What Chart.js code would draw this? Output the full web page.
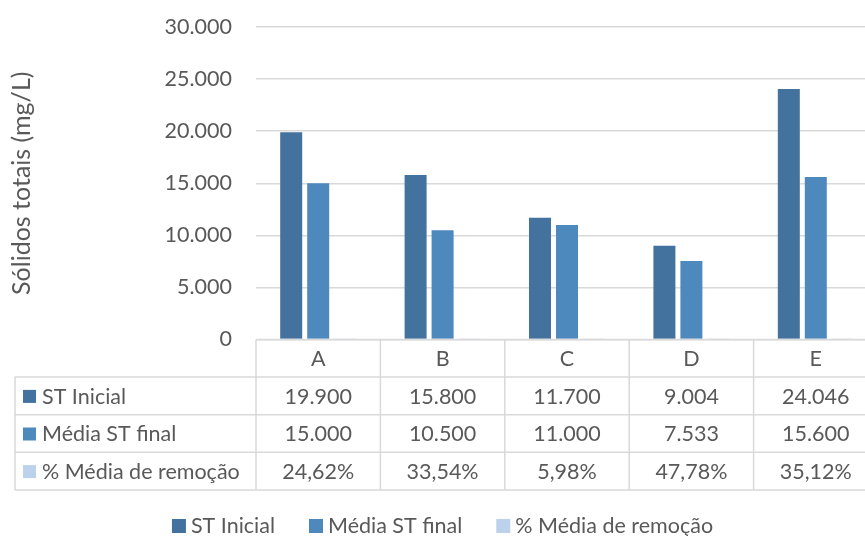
<!DOCTYPE html>
<html>
<head>
<meta charset="utf-8">
<script src="https://cdn.jsdelivr.net/npm/chart.js@4/dist/chart.umd.min.js"></script>
<style>
  html, body { margin: 0; padding: 0; background: #ffffff; overflow: hidden; width: 865px; height: 536px; }
  #wrap { position: absolute; left: 0; top: 0; width: 883px; height: 536px; }
</style>
</head>
<body>
<div id="wrap"><canvas id="c" width="883" height="536"></canvas></div>
<script>
// ---- data ----
const categories = ['A', 'B', 'C', 'D', 'E'];
const stInicial = [19900, 15800, 11700, 9004, 24046];
const mediaStFinal = [15000, 10500, 11000, 7533, 15600];
const pctRemocao = [24.62, 33.54, 5.98, 47.78, 35.12]; // percent
const seriesNames = ['ST Inicial', 'Média ST final', '% Média de remoção'];
const yTicks = [0, 5000, 10000, 15000, 20000, 25000, 30000];
const yTitle = 'Sólidos totais (mg/L)';

const colors = ['#44729E', '#4E89BE', '#BCD2EB'];
const FONT = 'Lato, "Open Sans", sans-serif';
const FSIZE = 21.5;
const TXT = '#595959';
const GRID = '#D9D9D9';

function fmtThousands(v) {
  return String(Math.round(v)).replace(/\B(?=(\d{3})+(?!\d))/g, '.');
}
function fmtPct(v) {
  return v.toFixed(2).replace('.', ',') + '%';
}

const tableRows = [
  { name: seriesNames[0], color: colors[0], values: stInicial.map(fmtThousands) },
  { name: seriesNames[1], color: colors[1], values: mediaStFinal.map(fmtThousands) },
  { name: seriesNames[2], color: colors[2], values: pctRemocao.map(fmtPct) }
];

const tablePlugin = {
  id: 'dataTable',
  afterDraw(chart) {
    const ctx = chart.ctx;
    const area = chart.chartArea;
    const xs = chart.scales.x;
    const n = categories.length;
    const catW = (area.right - area.left) / n;
    const top = area.bottom;
    const rowH = 37.6;
    const tableLeft = 15;
    const right = area.right;

    ctx.save();
    ctx.strokeStyle = GRID;
    ctx.lineWidth = 1.5;
    ctx.beginPath();
    ctx.moveTo(area.left, top); ctx.lineTo(right, top);
    for (let r = 1; r <= 4; r++) {
      const y = top + r * rowH;
      ctx.moveTo(tableLeft, y); ctx.lineTo(right, y);
    }
    ctx.moveTo(tableLeft, top + rowH); ctx.lineTo(tableLeft, top + 4 * rowH);
    for (let i = 0; i <= n; i++) {
      const x = area.left + i * catW;
      ctx.moveTo(x, top); ctx.lineTo(x, top + 4 * rowH);
    }
    ctx.stroke();

    ctx.fillStyle = TXT;
    ctx.font = FSIZE + 'px ' + FONT;
    ctx.textBaseline = 'middle';
    ctx.textAlign = 'center';
    for (let i = 0; i < n; i++) {
      ctx.fillText(categories[i], xs.getPixelForValue(i), top + rowH / 2 + 1);
    }
    tableRows.forEach((row, r) => {
      const cy = top + (r + 1) * rowH + rowH / 2 + 1;
      ctx.fillStyle = row.color;
      ctx.fillRect(23, cy - 7, 13, 13);
      ctx.fillStyle = TXT;
      ctx.textAlign = 'left';
      ctx.fillText(row.name, 42, cy);
      ctx.textAlign = 'center';
      row.values.forEach((v, i) => {
        ctx.fillText(v, xs.getPixelForValue(i), cy);
      });
    });

    // bottom legend
    const ly = 526;
    const box = 14, gapBox = 5, gapItem = 34;
    const items = chart.data.datasets.map(d => ({ label: d.label, color: d.backgroundColor }));
    const widths = items.map(it => box + gapBox + ctx.measureText(it.label).width);
    const total = widths.reduce((a, b) => a + b, 0) + gapItem * (items.length - 1);
    let x = 442.5 - total / 2;
    ctx.textAlign = 'left';
    items.forEach((it, i) => {
      ctx.fillStyle = it.color;
      ctx.fillRect(x, ly - 7, box, box);
      ctx.fillStyle = TXT;
      ctx.fillText(it.label, x + box + gapBox, ly);
      x += widths[i] + gapItem;
    });
    ctx.restore();
  }
};

new Chart(document.getElementById('c'), {
  type: 'bar',
  data: {
    labels: categories,
    datasets: [
      { label: seriesNames[0], data: stInicial, backgroundColor: colors[0] },
      { label: seriesNames[1], data: mediaStFinal, backgroundColor: colors[1] },
      { label: seriesNames[2], data: pctRemocao.map(v => v / 100), backgroundColor: colors[2] }
    ]
  },
  options: {
    responsive: false,
    animation: false,
    devicePixelRatio: 1,
    layout: { padding: { top: 27, bottom: 196.5, left: 0, right: 5 } },
    datasets: { bar: { categoryPercentage: 0.651, barPercentage: 0.815 } },
    plugins: { legend: { display: false }, tooltip: { enabled: false } },
    scales: {
      x: { display: false },
      y: {
        min: 0, max: 30000,
        afterBuildTicks(scale) { scale.ticks = yTicks.map(v => ({ value: v })); },
        afterFit(scale) { scale.width = 256; scale.paddingTop = 0; scale.paddingBottom = 0; },
        ticks: {
          padding: 24,
          color: TXT,
          font: { family: FONT, size: FSIZE },
          callback: v => fmtThousands(v)
        },
        grid: { color: GRID, lineWidth: 1.5, drawTicks: false },
        border: { display: false },
        title: {
          display: true,
          text: yTitle,
          color: TXT,
          font: { family: FONT, size: 25 },
          padding: { top: 7, bottom: 0 }
        }
      }
    }
  },
  plugins: [tablePlugin]
});
</script>
</body>
</html>
